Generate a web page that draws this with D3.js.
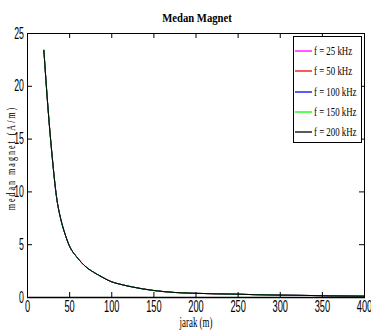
<!DOCTYPE html>
<html>
<head>
<meta charset="utf-8">
<script src="https://cdn.jsdelivr.net/npm/d3@7"></script>
<style>
  body { margin: 0; background: #fff; }
  svg { display: block; font-family: "Liberation Serif", "Times New Roman", serif; }
</style>
</head>
<body>
<div id="chart"></div>
<script>
// jarak (m)
const jarak = [20, 25, 30, 35, 40, 45, 50, 60, 70, 80, 90, 100, 110, 125, 150, 175, 200, 225, 250, 270, 300, 330, 360, 400]
// medan magnet (A/m) -- semua frekuensi praktis berimpit
const h25k  = [23.4, 17.8, 13.2, 9.5, 7.4, 6.0, 4.9, 3.7, 2.85, 2.3, 1.85, 1.45, 1.22, 0.95, 0.62, 0.43, 0.35, 0.3, 0.27, 0.22, 0.18, 0.15, 0.11, 0.08]
const h50k  = [23.4, 17.8, 13.2, 9.5, 7.4, 6.0, 4.9, 3.7, 2.85, 2.3, 1.85, 1.45, 1.22, 0.95, 0.62, 0.43, 0.35, 0.3, 0.27, 0.22, 0.18, 0.15, 0.11, 0.08]
const h100k = [23.4, 17.8, 13.2, 9.5, 7.4, 6.0, 4.9, 3.7, 2.85, 2.3, 1.85, 1.45, 1.22, 0.95, 0.62, 0.43, 0.35, 0.3, 0.27, 0.22, 0.18, 0.15, 0.11, 0.08]
const h150k = [23.4, 17.8, 13.2, 9.5, 7.4, 6.0, 4.9, 3.7, 2.85, 2.3, 1.85, 1.45, 1.22, 0.95, 0.62, 0.43, 0.35, 0.3, 0.27, 0.22, 0.18, 0.15, 0.11, 0.08]
const h200k = [23.4, 17.8, 13.2, 9.5, 7.4, 6.0, 4.9, 3.7, 2.85, 2.3, 1.85, 1.45, 1.22, 0.95, 0.62, 0.43, 0.35, 0.3, 0.27, 0.22, 0.18, 0.15, 0.11, 0.08]

const seriesNames = ["f = 25 kHz", "f = 50 kHz", "f = 100 kHz", "f = 150 kHz", "f = 200 kHz"]
const seriesColors = ["#ff00ff", "#ff0000", "#0000ff", "#00ff00", "#000000"]
const seriesValues = [h25k, h50k, h100k, h150k, h200k]

const xTicks = [0, 50, 100, 150, 200, 250, 300, 350, 400]
const yTicks = [0, 5, 10, 15, 20, 25]

const width = 371, height = 331
const plot = { left: 27, right: 364, top: 33, bottom: 297 }

const svg = d3.select("#chart").append("svg")
  .attr("width", width)
  .attr("height", height)

const x = d3.scaleLinear().domain([0, 400]).range([plot.left, plot.right])
const y = d3.scaleLinear().domain([0, 25]).range([plot.bottom, plot.top])

// garis
const line = d3.line()
  .x(d => x(d[0]))
  .y(d => y(d[1]))
  .curve(d3.curveMonotoneX)

seriesValues.forEach((vals, i) => {
  svg.append("path")
    .datum(jarak.map((r, j) => [r, vals[j]]))
    .attr("fill", "none")
    .attr("stroke", seriesColors[i])
    .attr("stroke-width", 1)
    .attr("d", line)
})

// teks dipadatkan (gambar asli tampak menyempit horizontal)
function squeeze(sel, sx) {
  sel.each(function() {
    const t = d3.select(this)
    const x0 = +t.attr("x") || 0
    t.attr("x", x0 / sx).attr("transform", `scale(${sx},1)`)
  })
}

function styleAxis(g) {
  g.select(".domain").remove()
  g.selectAll("line").attr("stroke", "#000")
}

// sumbu (tick ke dalam, gaya matlab)
svg.append("g")
  .attr("transform", `translate(0,${plot.bottom})`)
  .call(d3.axisBottom(x).tickValues(xTicks).tickSize(-5).tickSizeOuter(0).tickPadding(4))
  .call(styleAxis)
  .call(g => g.selectAll("text").attr("fill", "#000").attr("font-size", 16).call(squeeze, 0.58))

svg.append("g")
  .attr("transform", `translate(${plot.left},0)`)
  .call(d3.axisLeft(y).tickValues(yTicks).tickSize(-5).tickSizeOuter(0).tickPadding(3))
  .call(styleAxis)
  .call(g => g.selectAll("text").attr("fill", "#000").attr("font-size", 16).call(squeeze, 0.55))

svg.append("g")
  .attr("transform", `translate(0,${plot.top})`)
  .call(d3.axisTop(x).tickValues(xTicks).tickSize(-5).tickSizeOuter(0).tickFormat(""))
  .call(styleAxis)

svg.append("g")
  .attr("transform", `translate(${plot.right},0)`)
  .call(d3.axisRight(y).tickValues(yTicks).tickSize(-5).tickSizeOuter(0).tickFormat(""))
  .call(styleAxis)

// bingkai
svg.append("rect")
  .attr("x", plot.left + 0.5).attr("y", plot.top + 0.5)
  .attr("width", plot.right - plot.left).attr("height", plot.bottom - plot.top)
  .attr("fill", "none").attr("stroke", "#000").attr("stroke-width", 1)
svg.append("line")
  .attr("x1", plot.left).attr("x2", plot.right + 1)
  .attr("y1", plot.bottom + 0.5).attr("y2", plot.bottom + 0.5)
  .attr("stroke", "#000").attr("stroke-width", 1.5)

// judul
svg.append("g").attr("transform", "translate(197,22)")
  .append("text")
  .attr("text-anchor", "middle")
  .attr("font-size", 13).attr("font-weight", "bold")
  .call(squeeze, 0.82)
  .text("Medan Magnet")

svg.append("g").attr("transform", "translate(196,327)")
  .append("text")
  .attr("text-anchor", "middle")
  .attr("font-size", 14)
  .call(squeeze, 0.64)
  .text("jarak (m)")

svg.append("g").attr("transform", "translate(15,158) rotate(-90)")
  .append("text")
  .attr("text-anchor", "middle")
  .attr("font-size", 13)
  .attr("letter-spacing", 3.2)
  .call(squeeze, 0.62)
  .text("medan magnet (A/m)")

// legenda
const legend = svg.append("g")
legend.append("rect")
  .attr("x", 293.5).attr("y", 36.5)
  .attr("width", 68).attr("height", 106)
  .attr("fill", "#fff").attr("stroke", "#000")

seriesNames.forEach((name, i) => {
  const ly = Math.round(51 + i * 20.3)
  legend.append("line")
    .attr("x1", 295).attr("x2", 312)
    .attr("y1", ly).attr("y2", ly)
    .attr("stroke", seriesColors[i]).attr("stroke-width", 1.3)
  legend.append("g").attr("transform", `translate(314,${ly + 4})`)
    .append("text")
    .attr("font-size", 13)
    .call(squeeze, 0.68)
    .text(name)
})
</script>
</body>
</html>
